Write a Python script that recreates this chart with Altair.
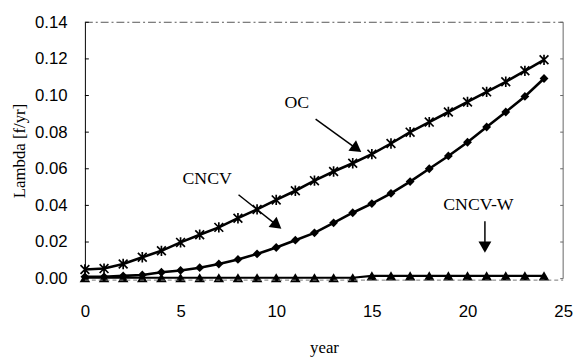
import altair as alt
import pandas as pd

years = list(range(0, 25))
oc = [0.005, 0.0055, 0.008, 0.0117, 0.0152, 0.0198, 0.024, 0.028, 0.033, 0.0378,
      0.043, 0.048, 0.0535, 0.0585, 0.063, 0.068, 0.0738, 0.080, 0.0855, 0.091,
      0.0965, 0.102, 0.1075, 0.1135, 0.1195]
cncv = [0.001, 0.001, 0.0015, 0.002, 0.0035, 0.0045, 0.006, 0.008, 0.0105, 0.0135,
        0.017, 0.021, 0.025, 0.0305, 0.036, 0.041, 0.0466, 0.053, 0.060, 0.067,
        0.0745, 0.0828, 0.091, 0.0995, 0.1093]
cncv_w = [0.0005] * 15 + [0.0015] * 10

y_ticks = [0, 0.02, 0.04, 0.06, 0.08, 0.10, 0.12, 0.14]
x_ticks = [0, 5, 10, 15, 20, 25]

# annotations: label, text position, arrow start, arrow head, head angle
ann_labels = ["OC", "CNCV", "CNCV-W"]
ann_text_x = [11.08, 6.39, 20.57]
ann_text_y = [0.0961, 0.0544, 0.0404]
ann_from_x = [12.06, 8.03, 20.91]
ann_from_y = [0.0871, 0.0458, 0.0314]
ann_head_x = [14.21, 10.04, 20.91]
ann_head_y = [0.0709, 0.0291, 0.0172]
ann_angle = [126, 128, 180]

W, H = 485, 260

df = pd.DataFrame({"year": years, "OC": oc, "CNCV": cncv, "CNCVW": cncv_w})
ann = pd.DataFrame({"label": ann_labels, "tx": ann_text_x, "ty": ann_text_y,
                    "fx": ann_from_x, "fy": ann_from_y,
                    "hx": ann_head_x, "hy": ann_head_y, "ang": ann_angle})
ticks = pd.DataFrame({"v": y_ticks})

xs = alt.Scale(domain=[0, 25], nice=False, zero=False)
ys = alt.Scale(domain=[0, 0.14], nice=False)

x_axis = alt.Axis(
    values=x_ticks, ticks=False, domain=False, grid=False, labelPadding=25,
    labelOverlap=False, labelFlush=False,
    labelFont="Liberation Sans", labelFontSize=17, labelColor="black",
    title="year", titleFont="Liberation Serif", titleFontSize=17,
    titleFontWeight="normal", titleColor="black", titlePadding=21)
y_axis = alt.Axis(
    values=y_ticks, format=".2f", ticks=False, grid=False, labelOverlap=False,
    labelFlush=False,
    domainColor="black", domainWidth=1, labelPadding=18,
    labelFont="Liberation Sans", labelFontSize=17, labelColor="black",
    title="Lambda [f/yr]", titleFont="Liberation Serif", titleFontSize=17,
    titleFontWeight="normal", titleColor="black", titlePadding=6)

def xenc(field):
    return alt.X(field + ":Q", scale=xs, axis=x_axis)

def yenc(field):
    return alt.Y(field + ":Q", scale=ys, axis=y_axis)

base = alt.Chart(df)

one = alt.Data(values=[{"a": 1}])
top_border = alt.Chart(one).mark_rule(color="#555", strokeWidth=1, strokeDash=[8, 3, 2, 3]).encode(
    x=alt.value(0), x2=alt.value(W), y=alt.value(0))
right_border = alt.Chart(one).mark_rule(color="#666", strokeWidth=1).encode(
    x=alt.value(W), y=alt.value(0), y2=alt.value(H))
bottom_border = alt.Chart(one).mark_rule(color="#777", strokeWidth=1, strokeDash=[4, 3]).encode(
    x=alt.value(0), x2=alt.value(W), y=alt.value(H + 1.5))

line_w = base.mark_line(color="black", strokeWidth=2.2).encode(x=xenc("year"), y=yenc("CNCVW"))
pts_w = base.mark_point(shape="triangle-up", filled=True, color="black", size=115, opacity=1).encode(
    x=xenc("year"), y=yenc("CNCVW"))
line_c = base.mark_line(color="black", strokeWidth=2.6).encode(x=xenc("year"), y=yenc("CNCV"))
pts_c = base.mark_point(shape="diamond", filled=True, color="black", size=80, opacity=1).encode(
    x=xenc("year"), y=yenc("CNCV"))
line_o = base.mark_line(color="black", strokeWidth=2.6).encode(x=xenc("year"), y=yenc("OC"))
pts_o = base.mark_point(shape="M-0.85,-0.85L0.85,0.85M0.85,-0.85L-0.85,0.85M0,-1L0,1",
                        filled=False, color="black", size=110, strokeWidth=1.7, opacity=1).encode(
    x=xenc("year"), y=yenc("OC"))

left_ticks = alt.Chart(ticks).mark_rule(color="black", strokeWidth=1).encode(
    y=yenc("v"), x=alt.value(0), x2=alt.value(4))
right_ticks = alt.Chart(ticks).mark_rule(color="#666", strokeWidth=1).encode(
    y=yenc("v"), x=alt.value(W - 3), x2=alt.value(W))

ann_base = alt.Chart(ann)
ann_text = ann_base.mark_text(font="Liberation Serif", fontSize=18, color="black").encode(
    x=xenc("tx"), y=yenc("ty"), text="label:N")
ann_line = ann_base.mark_rule(color="black", strokeWidth=1.5).encode(
    x=xenc("fx"), y=yenc("fy"), x2="hx:Q", y2="hy:Q")
ann_head = ann_base.mark_point(shape="triangle-up", filled=True, color="black", size=170, opacity=1).encode(
    x=xenc("hx"), y=yenc("hy"), angle=alt.Angle("ang:Q", scale=None))

chart = alt.layer(
    line_w, pts_w, line_c, pts_c, line_o, pts_o,
    top_border, right_border, bottom_border, left_ticks, right_ticks,
    ann_line, ann_head, ann_text
).properties(
    width=W, height=H,
    autosize=alt.AutoSizeParams(type="none"),
    padding={"left": 78, "top": 12, "right": 11, "bottom": 78},
    background="white"
).configure_view(stroke=None)

chart.save("out.html", embed_options={"renderer": "svg", "actions": False})
